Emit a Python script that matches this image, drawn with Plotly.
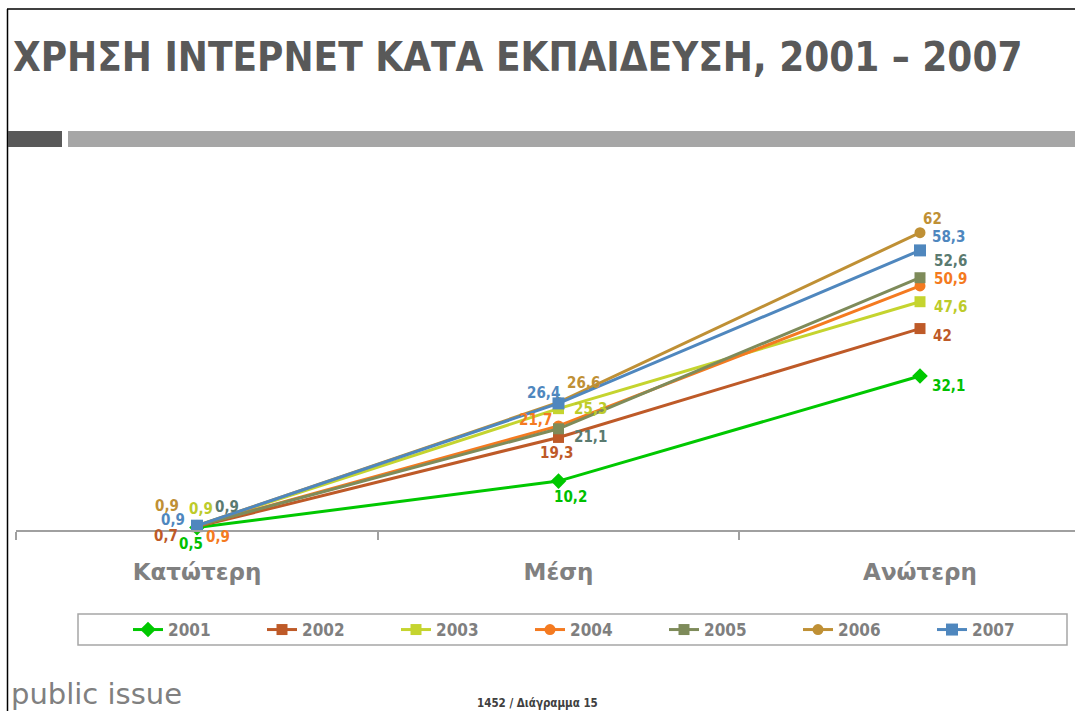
import plotly.graph_objects as go

# ---- data ----
categories = ["Κατώτερη", "Μέση", "Ανώτερη"]
years = ["2001", "2002", "2003", "2004", "2005", "2006", "2007"]
v2001 = [0.5, 10.2, 32.1]
v2002 = [0.7, 19.3, 42]
v2003 = [0.9, 25.3, 47.6]
v2004 = [0.9, 21.7, 50.9]
v2005 = [0.9, 21.1, 52.6]
v2006 = [0.9, 26.6, 62]
v2007 = [0.9, 26.4, 58.3]
values = [v2001, v2002, v2003, v2004, v2005, v2006, v2007]

title_text = "ΧΡΗΣΗ ΙΝΤΕΡΝΕΤ ΚΑΤΑ ΕΚΠΑΙΔΕΥΣΗ, 2001 – 2007"
footer_brand = "public issue"
footer_ref = "1452 / Διάγραμμα 15"

# ---- styles ----
line_colors = ["#00C800", "#BE5A28", "#C5D42F", "#F47A20", "#7E8B5A", "#BF9035", "#4F87BE"]
label_colors = ["#00C000", "#BE5A28", "#BDCB2A", "#F47A20", "#5A7A70", "#BF9035", "#4F87BE"]
symbols = ["diamond", "square", "square", "circle", "square", "circle", "square"]
msizes = [12, 11, 11, 11, 11, 11, 12]
# label offsets in px (xshift, yshift) per series per category
offsets = [
    [(-6, -16), (12, -16), (28, -10)],
    [(-31, -9), (-2, -16), (22, -7)],
    [(4, 17), (32, 0), (30, -5)],
    [(21, -11), (-23, 6), (30, 7)],
    [(30, 19), (32, -8), (30, 17)],
    [(-30, 20), (25, 19), (12, 14)],
    [(-24, 6), (-15, 10), (28, 13)],
]

W, H = 1075, 711
# plot area in pixels
L, R, T, B = 16, 1075, 180, 530
PW, PH = R - L, B - T
ppu_x = 361.5
x0 = -181 / ppu_x
x1 = 2 + (PW - 904) / ppu_x
ppu_y = 4.796
ymax = PH / ppu_y


def px(x):
    return (x - L) / PW


def py(y):
    return (B - y) / PH


fig = go.Figure()
for i, yr in enumerate(years):
    fig.add_trace(go.Scatter(
        x=categories, y=values[i], name=yr, mode="lines+markers",
        line=dict(color=line_colors[i], width=3),
        marker=dict(symbol=symbols[i], size=msizes[i], color=line_colors[i]),
        cliponaxis=False,
    ))

label_font = "DejaVu Sans Condensed, DejaVu Sans"
annotations = []
for i, yr in enumerate(years):
    for j, c in enumerate(categories):
        v = values[i][j]
        annotations.append(dict(
            x=c, y=v, xref="x", yref="y", showarrow=False,
            text=f"{v:g}".replace(".", ","),
            xshift=offsets[i][j][0], yshift=offsets[i][j][1],
            font=dict(family=label_font, size=15, color=label_colors[i], weight="bold"),
        ))

annotations.append(dict(
    x=px(11), y=py(57), xref="paper", yref="paper", xanchor="left", yanchor="middle",
    showarrow=False, text=title_text,
    font=dict(family="DejaVu Sans Condensed, DejaVu Sans", size=40, color="#595959", weight="bold"),
))
annotations.append(dict(
    x=px(9), y=py(694), xref="paper", yref="paper", xanchor="left", yanchor="middle",
    showarrow=False, text=footer_brand,
    font=dict(family="DejaVu Sans", size=29, color="#808080"),
))
annotations.append(dict(
    x=px(537), y=py(703), xref="paper", yref="paper", xanchor="center", yanchor="middle",
    showarrow=False, text=footer_ref,
    font=dict(family="DejaVu Sans Condensed, DejaVu Sans", size=11.5, color="#404040", weight="bold"),
))

shapes = [
    # slide frame
    dict(type="line", xref="paper", yref="paper", x0=px(7.5), x1=px(7.5), y0=py(9), y1=py(711),
         line=dict(color="#000000", width=1.5)),
    dict(type="line", xref="paper", yref="paper", x0=px(7), x1=px(1075), y0=py(9), y1=py(9),
         line=dict(color="#000000", width=1.5)),
    # gray bars
    dict(type="rect", xref="paper", yref="paper", x0=px(8), x1=px(62), y0=py(147), y1=py(131),
         fillcolor="#595959", line=dict(width=0)),
    dict(type="rect", xref="paper", yref="paper", x0=px(68), x1=px(1075), y0=py(147), y1=py(131),
         fillcolor="#A6A6A6", line=dict(width=0)),
    # legend box
    dict(type="rect", xref="paper", yref="paper", x0=px(78), x1=px(1067), y0=py(645), y1=py(614),
         fillcolor="rgba(0,0,0,0)", line=dict(color="#A6A6A6", width=1.5)),
]

fig.update_layout(
    width=W, height=H,
    margin=dict(l=L, r=W - R, t=T, b=H - B, pad=0),
    paper_bgcolor="white", plot_bgcolor="white",
    showlegend=True,
    legend=dict(
        orientation="h", x=px(128), y=py(630), xanchor="left", yanchor="middle",
        bgcolor="rgba(0,0,0,0)", borderwidth=0,
        font=dict(family="DejaVu Sans Condensed, DejaVu Sans", size=17, color="#7F7F7F", weight="bold"),
        entrywidth=89, entrywidthmode="pixels", traceorder="normal", itemwidth=30,
    ),
    xaxis=dict(
        type="category", range=[x0, x1], showgrid=False, zeroline=False,
        showline=True, linecolor="#A0A0A0", linewidth=1.5,
        ticks="outside", tickson="boundaries", ticklen=8, tickcolor="#A0A0A0", tickwidth=1.5,
        ticklabelstandoff=21,
        tickfont=dict(family="DejaVu Sans", size=23, color="#808080", weight="bold"),
    ),
    yaxis=dict(range=[0, ymax], visible=False, showgrid=False, zeroline=False),
    annotations=annotations, shapes=shapes,
)

fig.write_html(
    "out.html",
    config={"displayModeBar": False},
    post_script="document.body.style.margin='0';document.body.style.overflow='hidden';",
)
